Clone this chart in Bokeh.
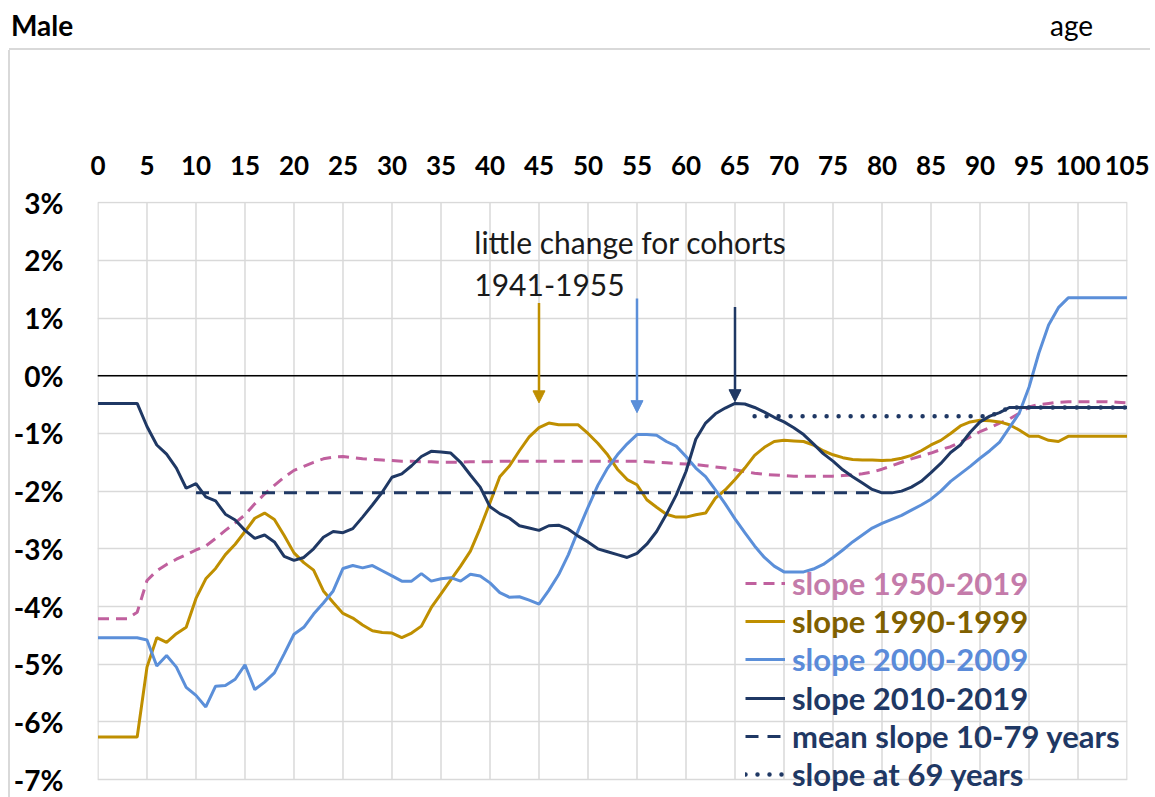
from bokeh.plotting import figure
from bokeh.layouts import column, row
from bokeh.models import (FixedTicker, PrintfTickFormatter, Span, Label, Arrow,
                          NormalHead, Legend, LegendItem, Range1d, Div)
from bokeh.embed import file_html
from bokeh.resources import INLINE

# ---------------- data ----------------
ages = list(range(0, 106))

slope_1950_2019 = [
    -4.21, -4.21, -4.21, -4.21, -4.10, -3.55, -3.38, -3.27, -3.18, -3.10,
    -3.02, -2.95, -2.82, -2.68, -2.55, -2.41, -2.22, -2.05, -1.90, -1.76,
    -1.64, -1.57, -1.50, -1.44, -1.41, -1.40, -1.42, -1.44, -1.45, -1.46,
    -1.47, -1.48, -1.48, -1.49, -1.49, -1.50, -1.50, -1.50, -1.49, -1.49,
    -1.49, -1.48, -1.48, -1.48, -1.48, -1.48, -1.48, -1.48, -1.48, -1.48,
    -1.48, -1.48, -1.48, -1.48, -1.48, -1.48, -1.49, -1.50, -1.51, -1.52,
    -1.53, -1.54, -1.56, -1.58, -1.60, -1.63, -1.66, -1.69, -1.71, -1.72,
    -1.73, -1.74, -1.74, -1.74, -1.74, -1.74, -1.73, -1.72, -1.70, -1.67,
    -1.62, -1.56, -1.50, -1.44, -1.39, -1.34, -1.28, -1.23, -1.15, -1.06,
    -0.97, -0.90, -0.82, -0.75, -0.65, -0.54, -0.50, -0.48, -0.46, -0.45,
    -0.45, -0.45, -0.45, -0.45, -0.46, -0.47]

slope_1990_1999 = [
    -6.26, -6.26, -6.26, -6.26, -6.26, -5.05, -4.54, -4.62, -4.47, -4.36,
    -3.86, -3.52, -3.34, -3.10, -2.92, -2.70, -2.47, -2.38, -2.49, -2.77,
    -3.07, -3.24, -3.37, -3.73, -3.93, -4.12, -4.20, -4.32, -4.42, -4.45,
    -4.46, -4.54, -4.46, -4.34, -4.02, -3.78, -3.54, -3.30, -3.04, -2.64,
    -2.20, -1.75, -1.56, -1.30, -1.06, -0.90, -0.82, -0.85, -0.85, -0.85,
    -1.00, -1.17, -1.37, -1.62, -1.80, -1.89, -2.15, -2.28, -2.40, -2.45,
    -2.45, -2.41, -2.38, -2.12, -1.98, -1.80, -1.60, -1.38, -1.24, -1.14,
    -1.12, -1.13, -1.14, -1.20, -1.30, -1.37, -1.42, -1.45, -1.46, -1.46,
    -1.47, -1.46, -1.43, -1.38, -1.30, -1.20, -1.12, -1.00, -0.87, -0.80,
    -0.77, -0.78, -0.80, -0.85, -0.94, -1.05, -1.05, -1.12, -1.14, -1.05,
    -1.05, -1.05, -1.05, -1.05, -1.05, -1.05]

slope_2000_2009 = [
    -4.54, -4.54, -4.54, -4.54, -4.54, -4.58, -5.03, -4.85, -5.05, -5.40,
    -5.54, -5.74, -5.38, -5.37, -5.26, -5.01, -5.44, -5.31, -5.15, -4.82,
    -4.48, -4.36, -4.13, -3.94, -3.73, -3.34, -3.29, -3.33, -3.29, -3.38,
    -3.47, -3.56, -3.56, -3.43, -3.56, -3.52, -3.50, -3.56, -3.44, -3.47,
    -3.59, -3.76, -3.84, -3.83, -3.89, -3.96, -3.72, -3.45, -3.10, -2.68,
    -2.28, -1.90, -1.60, -1.37, -1.18, -1.02, -1.02, -1.03, -1.14, -1.22,
    -1.40, -1.60, -1.75, -1.98, -2.22, -2.48, -2.72, -2.95, -3.15, -3.30,
    -3.40, -3.40, -3.40, -3.35, -3.27, -3.15, -3.02, -2.88, -2.76, -2.64,
    -2.56, -2.49, -2.42, -2.33, -2.24, -2.14, -2.00, -1.83, -1.70, -1.57,
    -1.43, -1.30, -1.15, -0.90, -0.65, -0.20, 0.39, 0.88, 1.18, 1.35,
    1.35, 1.35, 1.35, 1.35, 1.35, 1.35]

slope_2010_2019 = [
    -0.48, -0.48, -0.48, -0.48, -0.48, -0.88, -1.20, -1.36, -1.60, -1.95,
    -1.87, -2.10, -2.17, -2.40, -2.50, -2.68, -2.82, -2.76, -2.88, -3.13,
    -3.20, -3.15, -3.00, -2.80, -2.70, -2.72, -2.65, -2.45, -2.24, -2.02,
    -1.76, -1.70, -1.56, -1.40, -1.31, -1.32, -1.34, -1.50, -1.72, -1.93,
    -2.27, -2.39, -2.47, -2.60, -2.64, -2.68, -2.60, -2.59, -2.66, -2.78,
    -2.88, -3.00, -3.05, -3.10, -3.15, -3.08, -2.92, -2.70, -2.40, -2.07,
    -1.66, -1.10, -0.82, -0.66, -0.56, -0.48, -0.49, -0.55, -0.63, -0.72,
    -0.80, -0.90, -1.02, -1.18, -1.35, -1.48, -1.63, -1.75, -1.86, -1.97,
    -2.03, -2.03, -2.00, -1.93, -1.83, -1.68, -1.52, -1.33, -1.20, -0.98,
    -0.80, -0.70, -0.64, -0.55, -0.55, -0.55, -0.55, -0.55, -0.55, -0.55,
    -0.55, -0.55, -0.55, -0.55, -0.55, -0.55]

mean_ages = [10, 79]
mean_slope_10_79 = [-2.03, -2.03]

ages_69 = list(range(67, 106))
slope_at_69 = [
    -0.70, -0.70, -0.70, -0.70, -0.70, -0.70, -0.70, -0.70, -0.70, -0.70,
    -0.70, -0.70, -0.70, -0.70, -0.70, -0.70, -0.70, -0.70, -0.70, -0.70,
    -0.70, -0.70, -0.70, -0.70, -0.70, -0.63, -0.55, -0.55, -0.55, -0.55,
    -0.55, -0.55, -0.55, -0.55, -0.55, -0.55, -0.55, -0.55, -0.55]

x_ticks = [0, 5, 10, 15, 20, 25, 30, 35, 40, 45, 50, 55, 60, 65, 70, 75, 80, 85, 90, 95, 100, 105]
y_ticks = [-7, -6, -5, -4, -3, -2, -1, 0, 1, 2, 3]

arrow_ages = [45, 55, 65]
arrow_top = [1.26, 1.34, 1.19]
arrow_tip = [-0.47, -0.64, -0.45]

annotation_lines = ["little change for cohorts", "1941-1955"]
chart_title = "Male"
axis_title = "age"

legend_labels = ["slope 1950-2019", "slope 1990-1999", "slope 2000-2009",
                 "slope 2010-2019", "mean slope 10-79 years", "slope at 69 years"]

# ---------------- styles ----------------
PINK = "#C0609E"
GOLD = "#BF8F00"
BLUE = "#5B8FD9"
NAVY = "#1F3864"
GRID = "#D9D9D9"
TEXT_COLORS = ["#C47BAA", "#806000", "#5B8BD9", NAVY, NAVY, NAVY]
FONT = "Lato"

# ---- title strip (top) ----
title_html = (
    '<div style="position:relative;width:1150px;height:50px;font-family:Lato;'
    'font-size:28px;line-height:normal;color:black;">'
    f'<span style="position:absolute;left:11px;top:8px;font-weight:bold;">{chart_title}</span>'
    f'<span style="position:absolute;left:1050px;top:8px;">{axis_title}</span>'
    f'<div style="position:absolute;left:9px;top:48px;width:1141px;height:0;'
    f'border-top:2px solid {GRID};"></div></div>')
tdiv = Div(text=title_html, width=1150, height=50, margin=0)

# ---- left border strip ----
side_html = (f'<div style="position:relative;width:10px;height:747px;">'
             f'<div style="position:absolute;left:8px;top:0;width:0;height:747px;'
             f'border-left:2px solid {GRID};"></div></div>')
sdiv = Div(text=side_html, width=10, height=747, margin=0)

# ---- main chart ----
p = figure(width=1140, height=747, output_backend="svg", toolbar_location=None,
           x_range=Range1d(-0.05, 105.05), y_range=Range1d(-7.31, 3.02),
           x_axis_location="above",
           min_border_left=87, min_border_right=23, min_border_top=151,
           min_border_bottom=0)
p.outline_line_color = None

for ax in (p.xaxis[0], p.yaxis[0]):
    ax.axis_line_color = None
    ax.major_tick_line_color = None
    ax.minor_tick_line_color = None
    ax.major_tick_out = 0
    ax.major_tick_in = 0
    ax.minor_tick_out = 0
    ax.minor_tick_in = 0
    ax.major_label_text_font = FONT
    ax.major_label_text_font_style = "bold"
    ax.major_label_text_color = "black"
p.xaxis.ticker = FixedTicker(ticks=x_ticks)
p.yaxis.ticker = FixedTicker(ticks=y_ticks)
p.yaxis.formatter = PrintfTickFormatter(format="%d%%")
p.xaxis.major_label_text_font_size = "26px"
p.yaxis.major_label_text_font_size = "28px"
p.xaxis.major_label_standoff = 27
p.yaxis.major_label_standoff = 34

p.xgrid.visible = False
p.ygrid.ticker = FixedTicker(ticks=y_ticks)
p.ygrid.grid_line_color = GRID
p.ygrid.grid_line_width = 1.5
# vertical grid lines limited to the value range of the axis
p.segment(x0=x_ticks, y0=[min(y_ticks)] * len(x_ticks), x1=x_ticks,
          y1=[max(y_ticks)] * len(x_ticks), line_color=GRID, line_width=1.5)

p.add_layout(Span(location=0, dimension="width", line_color="black", line_width=1.3))

# series
r_pink = p.line(ages, slope_1950_2019, line_color=PINK, line_width=3, line_dash="11 7")
r_gold = p.line(ages, slope_1990_1999, line_color=GOLD, line_width=3)
r_blue = p.line(ages, slope_2000_2009, line_color=BLUE, line_width=3)
r_navy = p.line(ages, slope_2010_2019, line_color=NAVY, line_width=3)
r_mean = p.line(mean_ages, mean_slope_10_79, line_color=NAVY, line_width=3, line_dash="13 9")
r_dot = p.line(ages_69, slope_at_69, line_color=NAVY, line_width=4.5, line_dash="0 12",
               line_cap="round")

# arrows
for xa, y0, y1, c in zip(arrow_ages, arrow_top, arrow_tip, [GOLD, BLUE, NAVY]):
    p.add_layout(Arrow(end=NormalHead(size=12, fill_color=c, line_color=c),
                       x_start=xa, y_start=y0, x_end=xa, y_end=y1,
                       line_color=c, line_width=2.5))

# annotation text
p.add_layout(Label(x=38.4, y=2.31, text=annotation_lines[0], text_font=FONT,
                   text_font_size="30px", text_color="#1A1A1A", text_baseline="alphabetic"))
p.add_layout(Label(x=38.4, y=1.57, text=annotation_lines[1], text_font=FONT,
                   text_font_size="30px", text_color="#1A1A1A", text_baseline="alphabetic"))

# legends: one per entry so each label can have its own colour
renderers = [r_pink, r_gold, r_blue, r_navy, r_mean, r_dot]
legend_y = [195, 157, 119, 80, 42, 4]
for lab, r, col, ly in zip(legend_labels, renderers, TEXT_COLORS, legend_y):
    lg = Legend(items=[LegendItem(label=lab, renderers=[r])], location=(648, ly),
                glyph_width=40, glyph_height=30, label_height=30, label_standoff=7,
                padding=0, margin=0, spacing=0, border_line_color=None,
                background_fill_alpha=0, label_text_font=FONT,
                label_text_font_style="bold", label_text_font_size="31px",
                label_text_color=col)
    p.add_layout(lg)

layout = column(tdiv, row(sdiv, p, spacing=0), spacing=0)
open("out.html", "w").write(file_html(layout, INLINE))
